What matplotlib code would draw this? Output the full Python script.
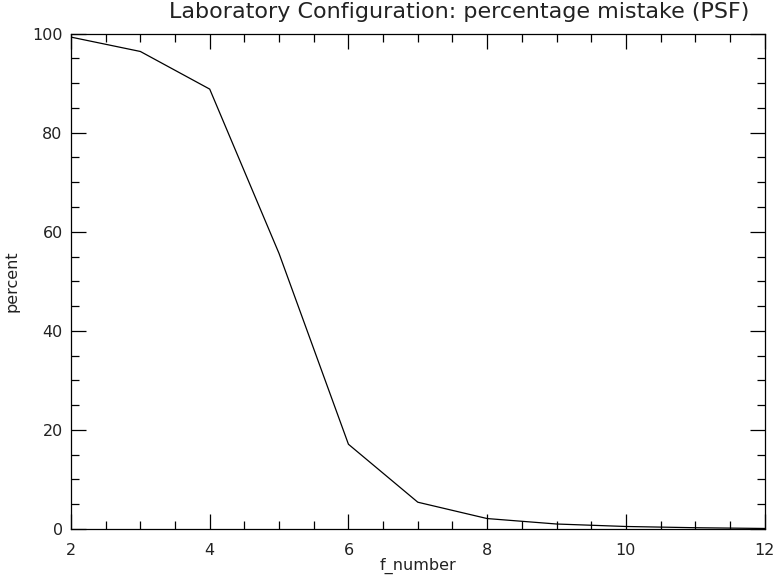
import matplotlib
matplotlib.use('Agg')
import matplotlib.pyplot as plt
from matplotlib.ticker import MultipleLocator

# f-number vs percentage mistake of the PSF
f_number = [2, 3, 4, 5, 6, 7, 8, 9, 10, 11, 12]
percent = [99.3, 96.4, 88.8, 55.6, 17.1, 5.4, 2.1, 1.0, 0.5, 0.25, 0.1]

fig = plt.figure(figsize=(7.75, 5.8), dpi=100)
ax = fig.add_axes([0.0916, 0.088, 0.895, 0.854])

ax.plot(f_number, percent, color='black', linewidth=0.9)

ax.set_xlim(2, 12)
ax.set_ylim(0, 100)
ax.xaxis.set_major_locator(MultipleLocator(2))
ax.xaxis.set_minor_locator(MultipleLocator(0.5))
ax.yaxis.set_major_locator(MultipleLocator(20))
ax.yaxis.set_minor_locator(MultipleLocator(5))

# IDL-like look: ticks inside on every side
ax.tick_params(which='both', direction='in', top=True, right=True,
               width=0.9, colors='black', labelcolor='#222222', labelsize=11.5)
ax.tick_params(which='major', length=11)
ax.tick_params(axis='x', which='major', pad=10)
ax.tick_params(axis='y', which='major', pad=6)
ax.tick_params(which='minor', length=6)
for spine in ax.spines.values():
    spine.set_linewidth(0.9)

ax.set_xlabel('f_number', fontsize=11.5, labelpad=0, color='#222222')
ax.set_ylabel('percent', fontsize=11.5, labelpad=9, color='#222222')
ax.set_title('Laboratory Configuration: percentage mistake (PSF)',
             fontsize=16, x=0.56, pad=11, color='#222222')

fig.savefig('out.png', dpi=100)
